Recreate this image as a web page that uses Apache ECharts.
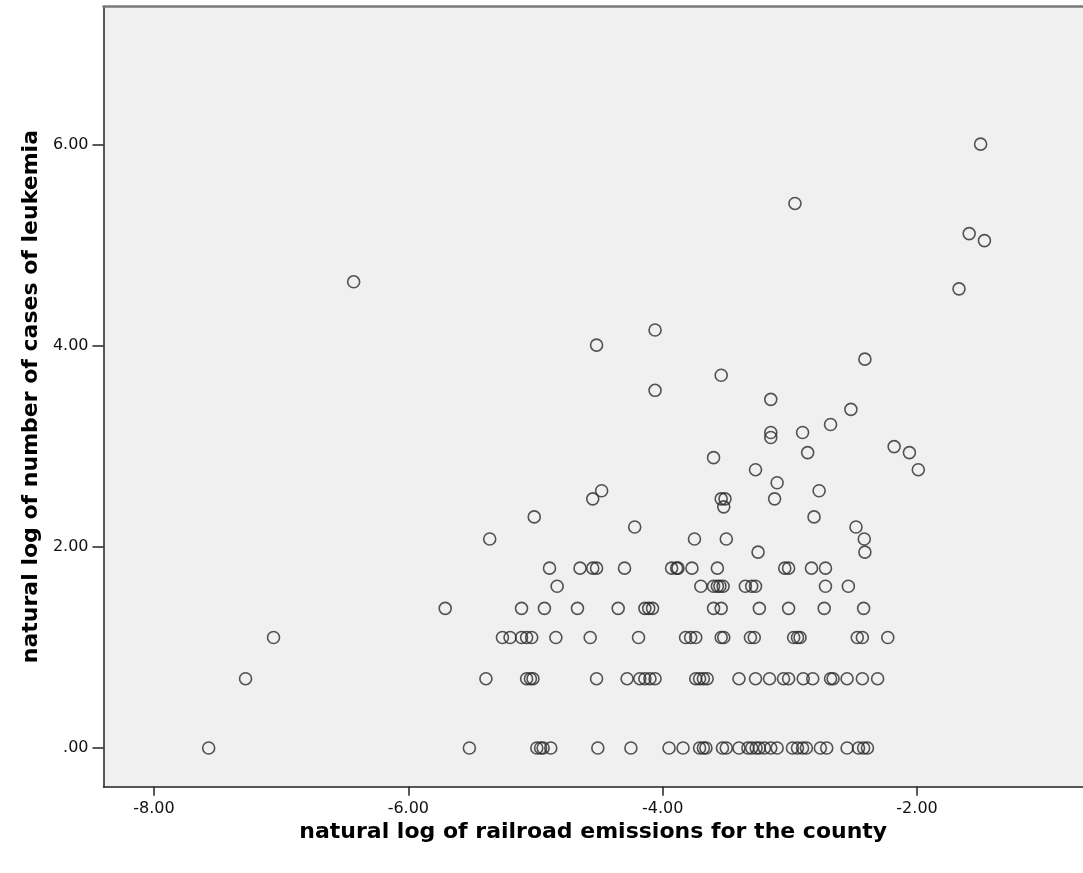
<!DOCTYPE html>
<html>
<head>
<meta charset="utf-8">
<script src="https://cdn.jsdelivr.net/npm/echarts@6/dist/echarts.min.js"></script>
<style>
  html, body { margin: 0; padding: 0; background: #ffffff; }
  #chart { width: 1083px; height: 873px; }
</style>
</head>
<body>
<div id="chart"></div>
<script>
// natural log of number of leukemia cases (row levels) and ln(railroad emissions) per county
const rowLevels = [0.00, 0.69, 1.10, 1.39, 1.61, 1.79];
const row000 = [-7.57, -5.52, -4.99, -4.96, -4.94, -4.88, -4.51, -4.25, -3.95, -3.84, -3.71, -3.68, -3.66, -3.53, -3.50, -3.40, -3.33, -3.30, -3.265, -3.24, -3.20, -3.15, -3.10, -2.98, -2.94, -2.90, -2.87, -2.76, -2.71, -2.55, -2.46, -2.42, -2.39];
const row069 = [-7.28, -5.39, -5.07, -5.04, -5.02, -4.52, -4.28, -4.18, -4.14, -4.10, -4.06, -3.74, -3.71, -3.68, -3.65, -3.40, -3.27, -3.16, -3.05, -3.01, -2.895, -2.82, -2.68, -2.66, -2.55, -2.43, -2.31];
const row110 = [-7.06, -5.26, -5.20, -5.11, -5.07, -5.03, -4.84, -4.57, -4.19, -3.82, -3.78, -3.74, -3.54, -3.52, -3.31, -3.28, -2.97, -2.94, -2.92, -2.47, -2.43, -2.23];
const row139 = [-5.71, -5.11, -4.93, -4.67, -4.35, -4.14, -4.11, -4.08, -3.60, -3.54, -3.24, -3.01, -2.73, -2.42];
const row161 = [-4.83, -3.70, -3.60, -3.57, -3.55, -3.525, -3.35, -3.30, -3.27, -2.72, -2.54];
const row179 = [-4.89, -4.65, -4.55, -4.52, -4.30, -3.93, -3.89, -3.88, -3.77, -3.57, -3.04, -3.01, -2.83, -2.72];

const upperX = [-3.25, -2.41, -5.36, -3.75, -3.50, -2.415, -4.22, -2.48, -5.01, -2.81, -3.52, -4.55, -3.54, -3.51, -3.12, -4.48, -2.77, -3.10, -3.27, -1.99, -3.60, -2.86, -2.06, -2.18, -3.15, -3.15, -2.90, -2.68, -2.52, -3.15, -4.06, -3.54, -2.41, -4.52, -4.06, -1.67, -6.43, -1.47, -1.59, -2.96, -1.50];
const upperY = [1.95, 1.95, 2.08, 2.08, 2.08, 2.08, 2.20, 2.20, 2.30, 2.30, 2.40, 2.48, 2.48, 2.48, 2.48, 2.56, 2.56, 2.64, 2.77, 2.77, 2.89, 2.94, 2.94, 3.00, 3.09, 3.14, 3.14, 3.22, 3.37, 3.47, 3.56, 3.71, 3.87, 4.01, 4.16, 4.57, 4.64, 5.05, 5.12, 5.42, 6.01];

const xTicks = [-8, -6, -4, -2];
const yTicks = [0, 2, 4, 6];
const xTitle = 'natural log of railroad emissions for the county';
const yTitle = 'natural log of number of cases of leukemia';

const rows = [row000, row069, row110, row139, row161, row179];
const points = [];
rows.forEach((r, i) => r.forEach(x => points.push([x, rowLevels[i]])));
upperX.forEach((x, i) => points.push([x, upperY[i]]));

const fmt = v => (v === 0 ? '.00' : v.toFixed(2));

const chart = echarts.init(document.getElementById('chart'), null, { renderer: 'canvas' });
chart.setOption({
  backgroundColor: '#ffffff',
  animation: false,
  grid: {
    left: 103.5, top: 6.5, right: 0, bottom: 86.3,
    show: true, backgroundColor: '#f0f0f0', borderWidth: 0
  },
  xAxis: [{
    type: 'value', min: -8.397, max: -0.695,
    name: xTitle, nameLocation: 'middle', nameGap: 33,
    nameTextStyle: { fontFamily: 'DejaVu Sans', fontWeight: 'bold', fontSize: 22, color: '#000' },
    axisLine: { show: true, onZero: false, lineStyle: { color: '#222', width: 1.5 } },
    axisTick: { show: true, length: 9, customValues: xTicks, lineStyle: { color: '#222', width: 1.5 } },
    axisLabel: { customValues: xTicks, formatter: fmt, margin: 14, fontFamily: 'DejaVu Sans', fontSize: 16, color: '#111' },
    splitLine: { show: false }
  }, {
    type: 'value', position: 'top', min: -8.397, max: -0.695,
    axisLine: { show: true, onZero: false, lineStyle: { color: '#7a7a7a', width: 2.5 } },
    axisTick: { show: false }, axisLabel: { show: false }, splitLine: { show: false }
  }],
  yAxis: {
    type: 'value', min: -0.385, max: 7.38,
    name: yTitle, nameLocation: 'middle', nameGap: 58, nameRotate: 90,
    nameTextStyle: { fontFamily: 'DejaVu Sans', fontWeight: 'bold', fontSize: 22, color: '#000' },
    axisLine: { show: true, onZero: false, lineStyle: { color: '#222', width: 1.5 } },
    axisTick: { show: true, length: 11, customValues: yTicks, lineStyle: { color: '#222', width: 1.5 } },
    axisLabel: { customValues: yTicks, formatter: fmt, margin: 15, fontFamily: 'DejaVu Sans', fontSize: 16, color: '#111' },
    splitLine: { show: false }
  },
  series: [{
    type: 'scatter',
    xAxisIndex: 0,
    data: points,
    symbol: 'circle',
    symbolSize: 12,
    itemStyle: { color: 'rgba(0,0,0,0)', borderColor: '#2a2a2a', borderWidth: 1.6 }
  }]
});
</script>
</body>
</html>
